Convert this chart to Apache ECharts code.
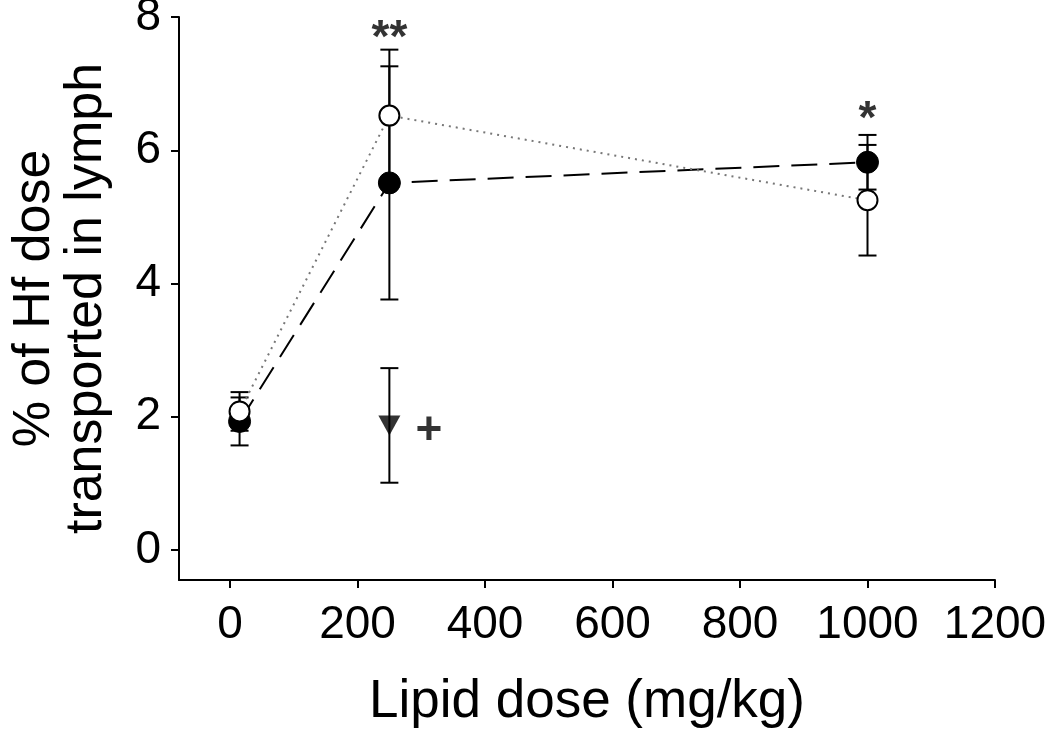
<!DOCTYPE html>
<html>
<head>
<meta charset="utf-8">
<script src="https://cdn.jsdelivr.net/npm/echarts@6/dist/echarts.min.js"></script>
<style>html,body{margin:0;padding:0;background:#fff}#c{width:1050px;height:734px}</style>
</head>
<body>
<div id="c"></div>
<script>
// ---- data ----
const doses = [15, 250, 1000];
const filledMean = [1.93, 5.51, 5.82];
const filledErr = [0.36, 1.75, 0.41];
const openMean = [2.08, 6.52, 5.25];
const openErr = [0.29, 0.99, 0.83];
const triDose = [250];
const triMean = [1.87];
const triErr = [0.86];
const xTicks = [0, 200, 400, 600, 800, 1000, 1200];
const yTicks = [0, 2, 4, 6, 8];
const annotX = [250, 1000, 312];
const annotY = [7.66, 6.45, 1.78];
const annotText = ['**', '*', '+'];

const FONT = 'Liberation Sans, Arial, sans-serif';

function pts(xs, ys) { return xs.map((x, i) => [x, ys[i]]); }
function errData(xs, ys, es) { return xs.map((x, i) => [x, ys[i] - es[i], ys[i] + es[i]]); }

function errRender(params, api) {
  const x = api.value(0), lo = api.value(1), hi = api.value(2);
  const pLo = api.coord([x, lo]), pHi = api.coord([x, hi]);
  const w = 9;
  const st = { stroke: '#000', lineWidth: 2 };
  return {
    type: 'group',
    children: [
      { type: 'line', shape: { x1: pLo[0], y1: pLo[1], x2: pHi[0], y2: pHi[1] }, style: st },
      { type: 'line', shape: { x1: pLo[0] - w, y1: pLo[1], x2: pLo[0] + w, y2: pLo[1] }, style: st },
      { type: 'line', shape: { x1: pHi[0] - w, y1: pHi[1], x2: pHi[0] + w, y2: pHi[1] }, style: st }
    ]
  };
}

const chart = echarts.init(document.getElementById('c'), null, { renderer: 'canvas' });
chart.setOption({
  animation: false,
  backgroundColor: '#fff',
  grid: { left: 179, right: 55, top: 17, bottom: 154, containLabel: false, outerBoundsMode: 'none' },
  xAxis: {
    type: 'value', min: -80, max: 1200,
    name: 'Lipid dose (mg/kg)', nameLocation: 'middle', nameGap: 96,
    nameTextStyle: { fontFamily: FONT, fontSize: 53, color: '#000' },
    axisLine: { show: true, onZero: false, lineStyle: { color: '#000', width: 2 } },
    axisTick: { show: true, customValues: xTicks, length: 8, lineStyle: { color: '#000', width: 2 } },
    axisLabel: { customValues: xTicks, formatter: v => String(v), fontFamily: FONT, fontSize: 46, color: '#000', margin: 22 },
    splitLine: { show: false }
  },
  yAxis: {
    type: 'value', min: -0.45, max: 8,
    name: '% of Hf dose\ntransported in lymph', nameLocation: 'middle', nameGap: 66, nameRotate: 90,
    nameTextStyle: { fontFamily: FONT, fontSize: 52, color: '#000', lineHeight: 52 },
    axisLine: { show: true, onZero: false, lineStyle: { color: '#000', width: 2 } },
    axisTick: { show: true, customValues: yTicks, length: 8, lineStyle: { color: '#000', width: 2 } },
    axisLabel: { customValues: yTicks, formatter: v => String(v), fontFamily: FONT, fontSize: 46, color: '#000', margin: 18 },
    splitLine: { show: false }
  },
  series: [
    { type: 'custom', renderItem: errRender, data: errData(doses, openMean, openErr), z: 2, silent: true },
    { type: 'custom', renderItem: errRender, data: errData(doses, filledMean, filledErr), z: 2, silent: true },
    { type: 'custom', renderItem: errRender, data: errData(triDose, triMean, triErr), z: 2, silent: true },
    {
      type: 'line', data: pts(doses, filledMean), z: 3,
      symbol: 'circle', symbolSize: 22,
      lineStyle: { color: '#000', width: 2, type: [26, 12] },
      itemStyle: { color: '#000', borderColor: '#000', borderWidth: 1 }
    },
    {
      type: 'line', data: pts(doses, openMean), z: 4,
      symbol: 'circle', symbolSize: 20,
      lineStyle: { color: '#777', width: 2, type: [2, 5] },
      itemStyle: { color: '#fff', borderColor: '#000', borderWidth: 2 }
    },
    {
      type: 'scatter', data: pts(triDose, triMean), z: 4,
      symbol: 'triangle', symbolRotate: 180, symbolSize: [22, 20],
      itemStyle: { color: '#000' }
    },
    {
      type: 'scatter', z: 5, symbolSize: 0, silent: true,
      data: annotX.map((x, i) => ({ value: [x, annotY[i]], name: annotText[i] })),
      label: { show: true, position: 'inside', formatter: p => p.name, fontFamily: FONT, fontSize: 46, fontWeight: 'bold', color: '#000', textBorderWidth: 0 }
    }
  ]
});
</script>
</body>
</html>
